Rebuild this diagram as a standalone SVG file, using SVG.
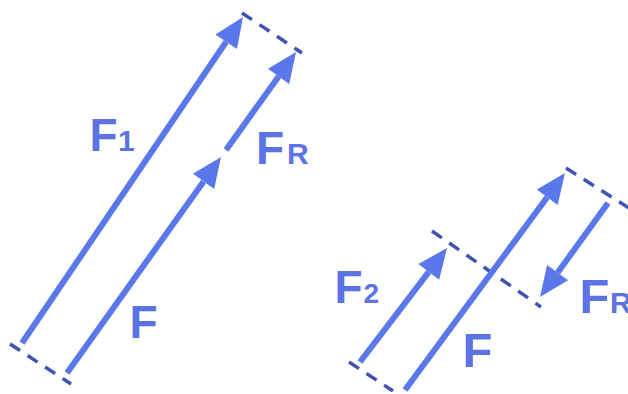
<svg xmlns="http://www.w3.org/2000/svg" width="628" height="394" viewBox="0 0 628 394">
<style>
.arrow{stroke:#5a78ea;stroke-width:6;fill:none;marker-end:url(#head)}
.dash{stroke:#3f53b3;stroke-width:3.5;stroke-dasharray:12 9;fill:none}
.lbl{font-family:"Liberation Sans",Arial,sans-serif;font-weight:bold;fill:#5b73e3}
</style>
<defs>
<marker id="head" markerUnits="userSpaceOnUse" markerWidth="32" markerHeight="28" viewBox="0 -14 31 28" refX="0" refY="0" orient="auto">
<path d="M0,-13 L30,0 L0,13 z" fill="#5a78ea"/>
</marker>
</defs>
<rect width="628" height="394" fill="#ffffff"/>
<g id="connectors">
<line class="dash" x1="242" y1="13" x2="302" y2="53"/>
<line class="dash" x1="10" y1="344" x2="71" y2="384"/>
<line class="dash" x1="349" y1="362" x2="393" y2="391"/>
<line class="dash" x1="432" y1="231" x2="541" y2="307"/>
<line class="dash" x1="566" y1="168" x2="632" y2="210"/>
</g>
<g id="F1-left">
<line class="arrow" x1="22" y1="343" x2="226.2" y2="41.8"/>
<text class="lbl" x="89.6" y="151" font-size="46">F</text>
<text class="lbl" x="118" y="151" font-size="30">1</text>
</g>
<g id="F-left">
<line class="arrow" x1="67" y1="373" x2="203.6" y2="181.4"/>
<text class="lbl" x="129.6" y="338" font-size="46">F</text>
</g>
<g id="FR-left">
<line class="arrow" x1="226" y1="150" x2="278.6" y2="76.4"/>
<text class="lbl" x="256" y="164" font-size="46">F</text>
<text class="lbl" x="287" y="164" font-size="30">R</text>
</g>
<g id="F2-right">
<line class="arrow" x1="360" y1="362" x2="428.8" y2="271.9"/>
<text class="lbl" x="334.6" y="303" font-size="46">F</text>
<text class="lbl" x="363.5" y="303" font-size="28">2</text>
</g>
<g id="F-right">
<line class="arrow" x1="405" y1="390" x2="547.2" y2="197.2"/>
<text class="lbl" x="462.5" y="367" font-size="49">F</text>
</g>
<g id="FR-right">
<line class="arrow" x1="608" y1="203" x2="557.6" y2="272.7"/>
<text class="lbl" x="579.4" y="313" font-size="49">F</text>
<text class="lbl" x="610" y="313" font-size="30">R</text>
</g>
</svg>
